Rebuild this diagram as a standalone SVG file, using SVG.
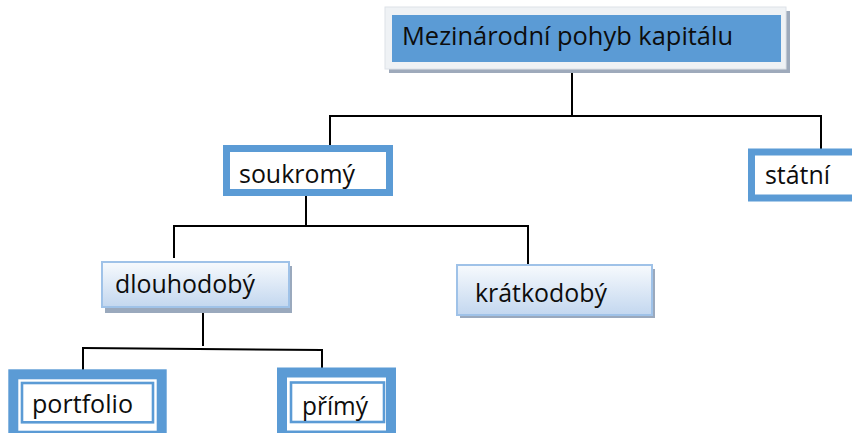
<svg xmlns="http://www.w3.org/2000/svg" width="852" height="433" viewBox="0 0 852 433">
  <defs>
    <linearGradient id="lightFill" x1="0" y1="0" x2="0" y2="1">
      <stop offset="0" stop-color="#f7fafd"/>
      <stop offset="1" stop-color="#c3d7ef"/>
    </linearGradient>
    <style>
      .txt { font-family: "Open Sans", "Liberation Sans", sans-serif; font-size: 25px; fill: #0d0d0d; }
      .thick { fill: #ffffff; stroke: #5b9bd5; stroke-width: 7; }
      .outer { fill: #ffffff; stroke: #5b9bd5; stroke-width: 10; }
      .inner { fill: none; stroke: #5b9bd5; stroke-width: 2.6; }
      .light { fill: url(#lightFill); stroke: #9fc2e8; stroke-width: 2; }
      .shadow { fill: #9aa9bd; }
      .conn { fill: none; stroke: #000000; stroke-width: 2; }
    </style>
  </defs>
  <rect width="852" height="433" fill="#ffffff"/>

  <g id="connectors">
    <path class="conn" d="M572 67 V116"/>
    <path class="conn" d="M330 116 H822"/>
    <path class="conn" d="M330 115 V147"/>
    <path class="conn" d="M821 115 V150"/>
    <path class="conn" d="M306 196 V226"/>
    <path class="conn" d="M174 226 H528"/>
    <path class="conn" d="M174 225 V258"/>
    <path class="conn" d="M528 225 V265"/>
    <path class="conn" d="M203 307 V346"/>
    <path class="conn" d="M83 348 L322 350"/>
    <path class="conn" d="M83 347 V372"/>
    <path class="conn" d="M322 349 V375"/>
  </g>

  <g id="node-mezinarodni">
    <rect x="389" y="11" width="401" height="62" fill="#9eaabb"/>
    <rect x="385" y="7" width="401" height="62" fill="#eff2f5" stroke="#dde2e8" stroke-width="1"/>
    <rect x="392" y="15" width="389" height="47" fill="#5b9bd5"/>
    <text class="txt" x="402" y="45" textLength="331" lengthAdjust="spacingAndGlyphs">Mezinárodní pohyb kapitálu</text>
  </g>

  <g id="node-soukromy">
    <rect class="thick" x="226.5" y="148.5" width="163" height="44"/>
    <text class="txt" x="239" y="183" textLength="116" lengthAdjust="spacingAndGlyphs">soukromý</text>
  </g>

  <g id="node-statni">
    <rect class="thick" x="751.5" y="152" width="110" height="46"/>
    <text class="txt" x="765" y="184" textLength="65" lengthAdjust="spacingAndGlyphs">státní</text>
  </g>

  <g id="node-dlouhodoby">
    <rect class="shadow" x="105" y="266" width="187" height="47"/>
    <rect class="light" x="102" y="262" width="187" height="45"/>
    <text class="txt" x="115" y="293" textLength="140" lengthAdjust="spacingAndGlyphs">dlouhodobý</text>
  </g>

  <g id="node-kratkodoby">
    <rect class="shadow" x="460" y="269" width="195" height="49"/>
    <rect class="light" x="457" y="265" width="195" height="50"/>
    <text class="txt" x="475" y="302" textLength="132" lengthAdjust="spacingAndGlyphs">krátkodobý</text>
  </g>

  <g id="node-portfolio">
    <rect class="outer" x="13.3" y="374.3" width="148.4" height="61.4"/>
    <rect class="inner" x="22" y="383" width="131" height="39.3"/>
    <text class="txt" x="32" y="413" textLength="101" lengthAdjust="spacingAndGlyphs">portfolio</text>
  </g>

  <g id="node-primy">
    <rect class="outer" x="282" y="372.5" width="109" height="63"/>
    <rect class="inner" x="291" y="382.5" width="93" height="39.5"/>
    <text class="txt" x="302" y="415" textLength="66" lengthAdjust="spacingAndGlyphs">přímý</text>
  </g>
</svg>
